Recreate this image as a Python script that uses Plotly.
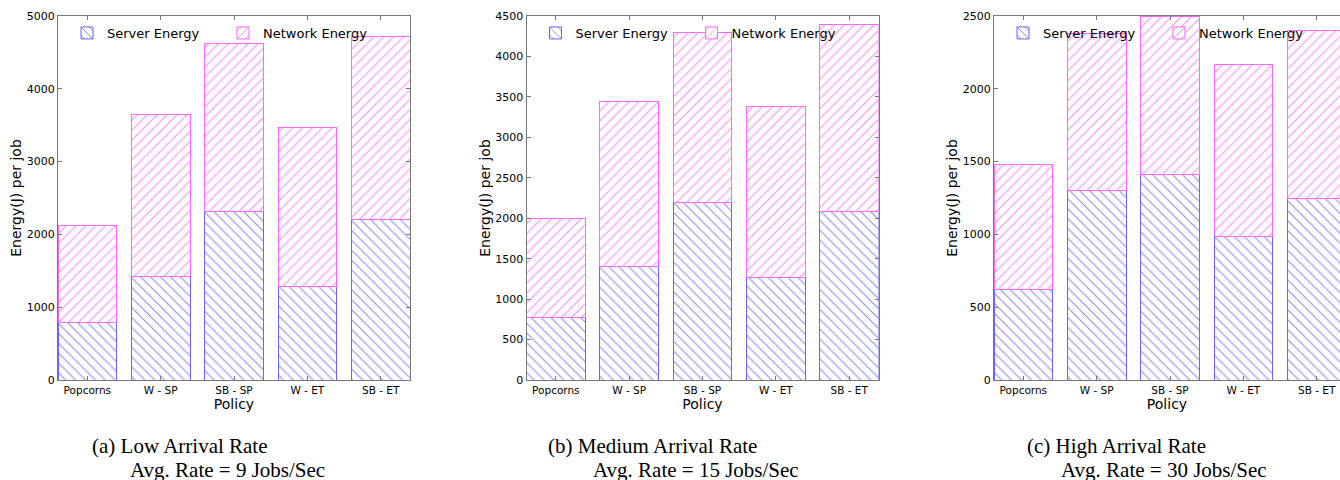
import plotly.graph_objects as go

categories = ["Popcorns", "W - SP", "SB - SP", "W - ET", "SB - ET"]

low_server = [790, 1420, 2320, 1285, 2210]
low_network = [1335, 2230, 2300, 2185, 2510]

med_server = [770, 1405, 2190, 1270, 2085]
med_network = [1225, 2040, 2100, 2110, 2315]

high_server = [625, 1300, 1410, 985, 1248]
high_network = [855, 1080, 1090, 1183, 1152]

y_max = [5000, 4500, 2500]
y_dtick = [1000, 500, 500]

captions_1 = ["(a) Low Arrival Rate", "(b) Medium Arrival Rate", "(c) High Arrival Rate"]
captions_2 = ["Avg. Rate = 9 Jobs/Sec", "Avg. Rate = 15 Jobs/Sec", "Avg. Rate = 30 Jobs/Sec"]

W, H = 1340, 480
FONT = "DejaVu Sans"
SERVER_C = "#1f1fff"
NET_C = "#ff1fff"
SERVER_EDGE = "#6666ff"
NET_EDGE = "#ff66ff"
AXC = "#777777"

panels = [(low_server, low_network), (med_server, med_network), (high_server, high_network)]
left_px = [58, 526.5, 994]
plot_w = 352
units = 4.8
y_dom = [1 - 380 / H, 1 - 16 / H]

fig = go.Figure()
for i, (srv, net) in enumerate(panels):
    sfx = "" if i == 0 else str(i + 1)
    lg = "legend" if i == 0 else f"legend{i + 1}"
    fig.add_trace(go.Bar(
        x=categories, y=srv, name="Server Energy", width=0.8,
        xaxis="x" + sfx, yaxis="y" + sfx, legend=lg,
        marker=dict(color="white", line=dict(color=SERVER_EDGE, width=1),
                    pattern=dict(shape="\\", fgcolor=SERVER_C, bgcolor="white",
                                 size=7, solidity=0.17)),
    ))
    fig.add_trace(go.Bar(
        x=categories, y=net, name="Network Energy", width=0.8,
        xaxis="x" + sfx, yaxis="y" + sfx, legend=lg,
        marker=dict(color="white", line=dict(color=NET_EDGE, width=1),
                    pattern=dict(shape="/", fgcolor=NET_C, bgcolor="white",
                                 size=7, solidity=0.17)),
    ))

layout = dict(
    width=W, height=H, barmode="stack", bargap=0.2,
    margin=dict(l=0, r=0, t=0, b=0, autoexpand=False),
    paper_bgcolor="white", plot_bgcolor="white",
    font=dict(family=FONT, color="black"),
    annotations=[],
)

for i in range(3):
    sfx = "" if i == 0 else str(i + 1)
    x0 = left_px[i]
    x1 = min(x0 + plot_w, W)
    r1 = -0.4 + (x1 - x0) / plot_w * units
    clipped = (x0 + plot_w) > W
    layout["xaxis" + sfx] = dict(
        domain=[x0 / W, x1 / W], anchor="y" + sfx, type="category",
        range=[-0.4, r1], showgrid=False, zeroline=False, automargin=False,
        showline=True, linecolor=AXC, linewidth=1, mirror="ticks",
        ticks="inside", ticklen=4, tickcolor=AXC,
        tickfont=dict(size=10.5, family=FONT),
        title=dict(text="Policy", font=dict(size=14, family=FONT), standoff=0),
    )
    layout["yaxis" + sfx] = dict(
        domain=y_dom, anchor="x" + sfx, range=[0, y_max[i]], dtick=y_dtick[i],
        showgrid=False, zeroline=False, automargin=False,
        showline=True, linecolor=AXC, linewidth=1,
        mirror=False if clipped else "ticks",
        ticks="inside", ticklen=4, tickcolor=AXC,
        tickfont=dict(size=11, family=FONT),
        title=dict(text="Energy(J) per job", font=dict(size=14, family=FONT), standoff=1),
    )
    lg = "legend" if i == 0 else f"legend{i + 1}"
    layout[lg] = dict(
        orientation="h", x=(x0 + 9) / W, xanchor="left",
        y=1 - 18 / H, yanchor="top",
        bgcolor="rgba(0,0,0,0)", borderwidth=0,
        entrywidth=111, font=dict(size=13, family=FONT),
        traceorder="normal",
    )
    cap_x1 = [90, 546, 1025][i]
    cap_x2 = [128, 591, 1059][i]
    layout["annotations"].append(dict(
        text=captions_1[i], x=cap_x1 / W, y=1 - 446 / H, xref="paper", yref="paper",
        xanchor="left", yanchor="middle", showarrow=False,
        font=dict(family="Liberation Serif", size=21, color="black")))
    layout["annotations"].append(dict(
        text=captions_2[i], x=cap_x2 / W, y=1 - 470 / H, xref="paper", yref="paper",
        xanchor="left", yanchor="middle", showarrow=False,
        font=dict(family="Liberation Serif", size=21, color="black")))

fig.update_layout(**layout)
fig.write_html(
    "out.html",
    config={"displayModeBar": False},
    post_script="document.body.style.margin='0';document.body.style.overflow='hidden';",
)
